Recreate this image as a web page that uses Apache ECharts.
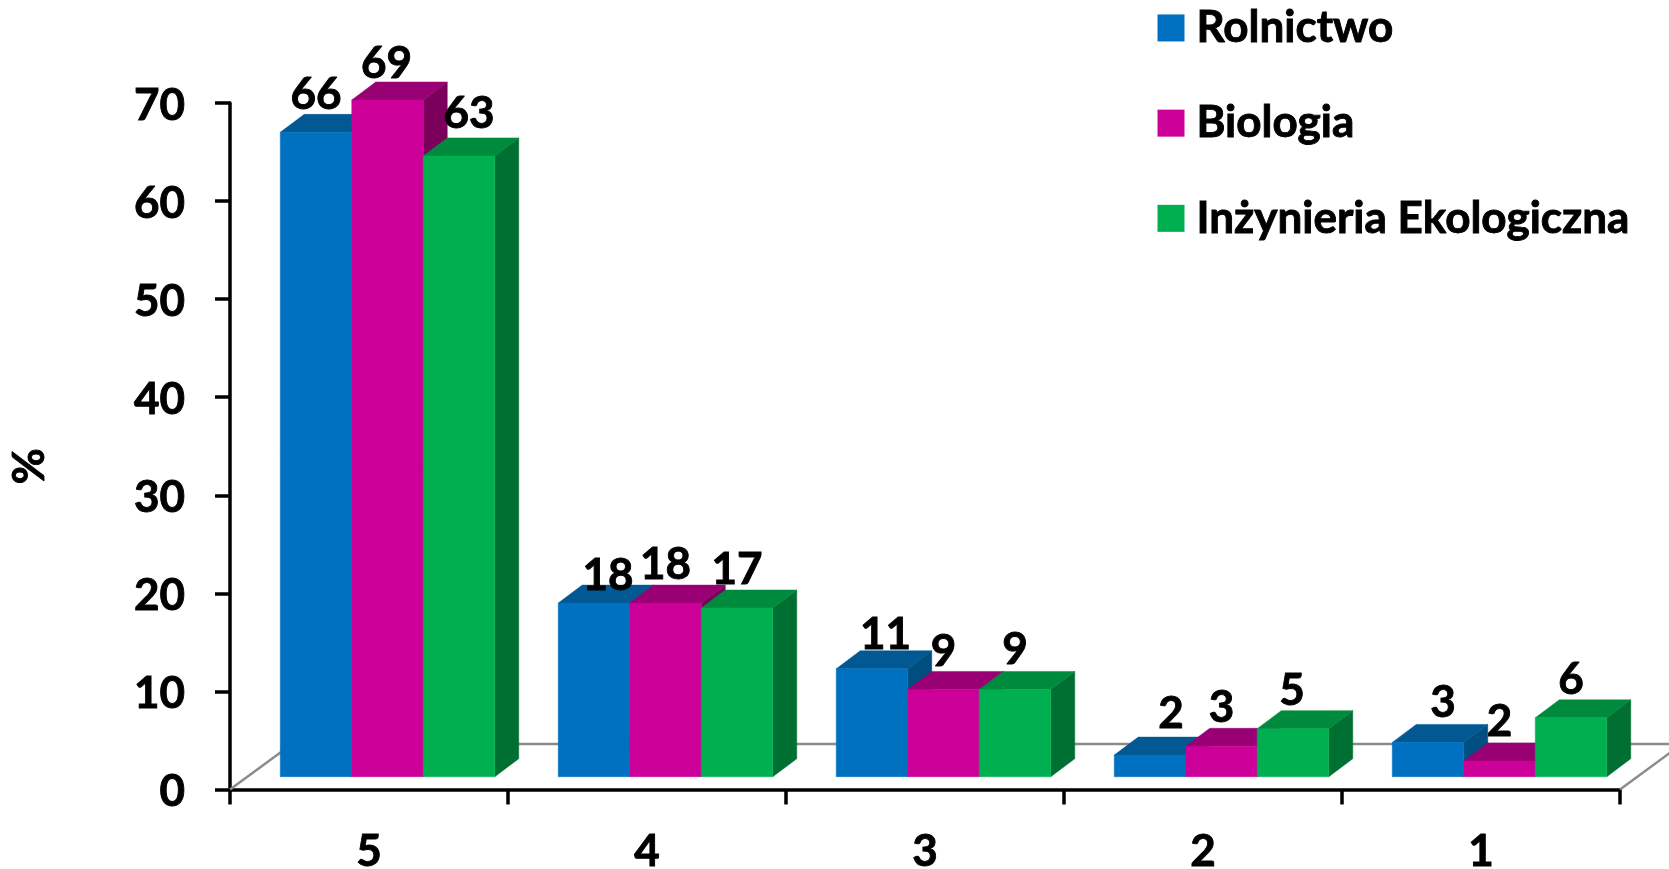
<!DOCTYPE html>
<html>
<head>
<meta charset="utf-8">
<style>html,body{margin:0;padding:0;background:#fff}#c{width:1669px;height:869px}</style>
<script src="https://cdn.jsdelivr.net/npm/echarts@6/dist/echarts.min.js"></script>
</head>
<body>
<div id="c"></div>
<script>
const categories = ['5', '4', '3', '2', '1'];
const yTicks = [0, 10, 20, 30, 40, 50, 60, 70];
const seriesNames = ['Rolnictwo', 'Biologia', 'Inżynieria Ekologiczna'];
// bar heights
const rolnictwo = [65.7, 17.7, 11.0, 2.2, 3.5];
const biologia = [69.0, 17.7, 8.9, 3.1, 1.6];
const inzynieria = [63.3, 17.2, 8.9, 4.9, 6.0];
// printed data labels
const rolnictwoLabels = ['66', '18', '11', '2', '3'];
const biologiaLabels = ['69', '18', '9', '3', '2'];
const inzynieriaLabels = ['63', '17', '9', '5', '6'];

// styling: hand-placed label nudges [dx, dy] from the bar's front-top centre
const rolnictwoNudge = [[0, -38.6], [14, -29], [13.6, -36], [21, -42.7], [15, -40.6]];
const biologiaNudge = [[-1, -38], [0, -39.5], [0, -39.4], [0, -40.3], [0, -40.4]];
const inzynieriaNudge = [[10, -44], [0, -39.4], [0, -41.5], [-1, -39], [0, -40]];

const FONT = 'Lato, "Open Sans", sans-serif';
const FS = 44;
const EMBOLDEN = 0.9;
const LABEL_DROP = 1.5;
const palette = [
  { front: '#0070C0', top: '#015892', side: '#004D80' },
  { front: '#CC0099', top: '#990073', side: '#7A005C' },
  { front: '#00B050', top: '#008A3E', side: '#006F32' }
];
const LIFT = [18.5, -12.8];   // front plane of bars relative to axis plane
const DEPTH = [24, -18];      // bar depth
const WALL = [62, -45.5];     // floor depth
const BAR_FRAC = 71.5 / 278;

function poly(points, fill) {
  return { type: 'polygon', shape: { points }, style: { fill, stroke: fill, lineWidth: 0.5 }, silent: true };
}
function barRenderer(idx, labels, nudges) {
  return function (params, api) {
    const c = api.value(0), v = api.value(1);
    const base = api.coord([c, 0]);
    const top = api.coord([c, v]);
    const w = api.size([1, 0])[0] * BAR_FRAC;
    const xl = base[0] + LIFT[0] + (idx - 1.5) * w;
    const xr = xl + w;
    const yb = base[1] + LIFT[1];
    const yt = top[1] + LIFT[1];
    const p = palette[idx];
    const n = nudges[params.dataIndex];
    return {
      type: 'group',
      children: [
        poly([[xr, yb], [xr + DEPTH[0], yb + DEPTH[1]], [xr + DEPTH[0], yt + DEPTH[1]], [xr, yt]], p.side),
        poly([[xl, yt], [xr, yt], [xr + DEPTH[0], yt + DEPTH[1]], [xl + DEPTH[0], yt + DEPTH[1]]], p.top),
        poly([[xl, yb], [xr, yb], [xr, yt], [xl, yt]], p.front),
        {
          type: 'text', z2: 100, silent: true,
          style: {
            text: labels[params.dataIndex],
            x: (xl + xr) / 2 + n[0], y: yt + n[1] + LABEL_DROP,
            textAlign: 'center', textVerticalAlign: 'middle',
            fontFamily: FONT, fontWeight: 'bold', fontSize: FS, fill: '#000',
            stroke: '#000', lineWidth: EMBOLDEN
          }
        }
      ]
    };
  };
}
function floorRenderer(params, api) {
  const a = api.coord([0, 0]);
  const band = api.size([1, 0])[0];
  const xStart = a[0] - band / 2;
  const xEnd = xStart + band * categories.length;
  const y = a[1];
  const line = { stroke: '#8C8C8C', lineWidth: 2.5 };
  return {
    type: 'group',
    children: [
      { type: 'line', silent: true, shape: { x1: xStart, y1: y, x2: xStart + WALL[0], y2: y + WALL[1] }, style: line },
      { type: 'line', silent: true, shape: { x1: xEnd, y1: y, x2: xEnd + WALL[0], y2: y + WALL[1] }, style: line },
      { type: 'line', silent: true, shape: { x1: xStart + WALL[0], y1: y + WALL[1], x2: xEnd + WALL[0], y2: y + WALL[1] }, style: line }
    ]
  };
}
function barSeries(i, values, labels, nudges) {
  return {
    type: 'custom', name: seriesNames[i], clip: false,
    itemStyle: { color: palette[i].front },
    encode: { x: 0, y: 1 },
    data: values.map((v, k) => [k, v]),
    renderItem: barRenderer(i, labels, nudges)
  };
}
const textBold = { fontFamily: FONT, fontWeight: 'bold', fontSize: FS, color: '#000', textBorderColor: '#000', textBorderWidth: EMBOLDEN };
const chart = echarts.init(document.getElementById('c'), null, { renderer: 'canvas' });
chart.setOption({
  animation: false,
  backgroundColor: '#fff',
  textStyle: { fontFamily: FONT },
  grid: { left: 230, top: 103, width: 1390, height: 686.5, containLabel: false, outerBoundsMode: 'none' },
  legend: {
    orient: 'vertical', left: 1157.5, top: 5.5, padding: 0,
    data: seriesNames, icon: 'rect',
    itemWidth: 27, itemHeight: 27, itemGap: 50.3,
    selectedMode: false,
    textStyle: Object.assign({}, textBold, { padding: [0, 0, 0, 7] })
  },
  xAxis: {
    type: 'category', data: categories, boundaryGap: true,
    axisLine: { show: true, lineStyle: { color: '#000', width: 3.5 } },
    axisTick: { show: true, alignWithLabel: false, length: 15, lineStyle: { color: '#000', width: 3.5 } },
    axisLabel: Object.assign({}, textBold, { margin: 40 }),
    splitLine: { show: false }
  },
  yAxis: {
    type: 'value', min: yTicks[0], max: yTicks[yTicks.length - 1], interval: 10,
    name: '%', nameLocation: 'middle', nameGap: 178, nameRotate: 90,
    nameTextStyle: Object.assign({}, textBold, { padding: [0, 40, 0, 0] }),
    axisLine: { show: true, lineStyle: { color: '#000', width: 3.5 } },
    axisTick: { show: true, length: 15, lineStyle: { color: '#000', width: 3.5 } },
    axisLabel: Object.assign({}, textBold, { margin: 45, verticalAlign: 'top', lineHeight: 5 }),
    splitLine: { show: false }
  },
  series: [
    { type: 'custom', name: 'floor', clip: false, silent: true, z: 1, encode: { x: 0, y: 1 }, data: [[0, 0]], renderItem: floorRenderer },
    barSeries(0, rolnictwo, rolnictwoLabels, rolnictwoNudge),
    barSeries(1, biologia, biologiaLabels, biologiaNudge),
    barSeries(2, inzynieria, inzynieriaLabels, inzynieriaNudge)
  ]
});
</script>
</body>
</html>
